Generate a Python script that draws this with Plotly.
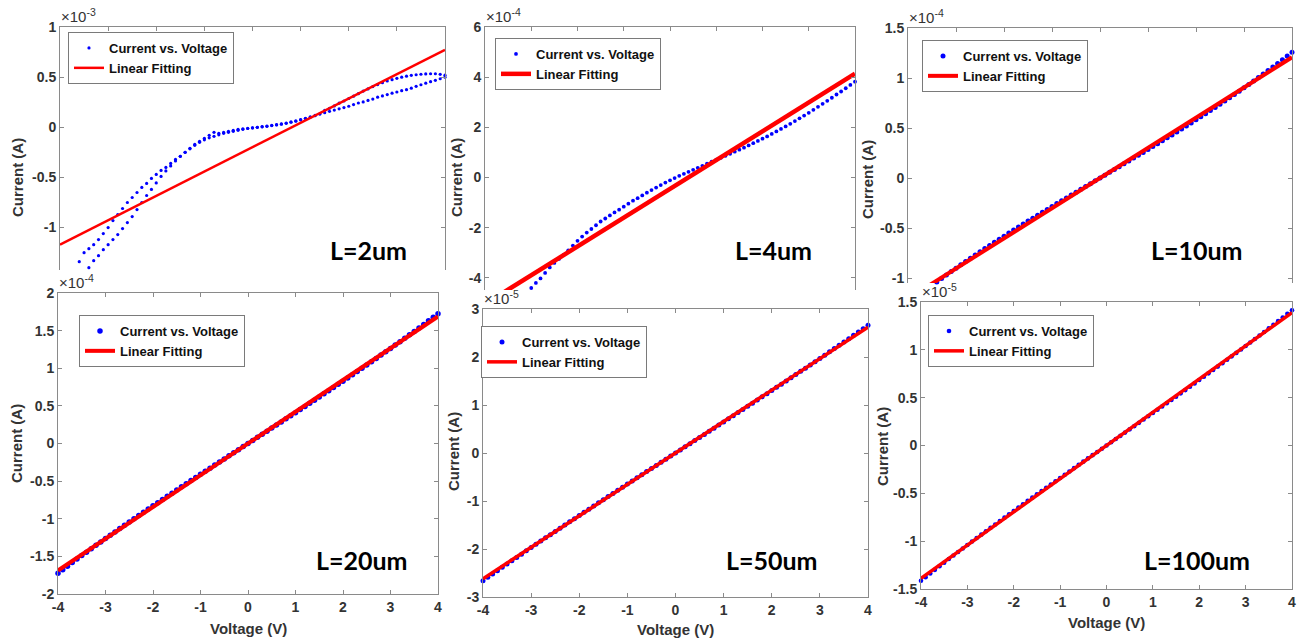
import plotly.graph_objects as go

# ---------------- data ----------------
voltage = [-4.0, -3.9, -3.8, -3.7, -3.6, -3.5, -3.4, -3.3, -3.2, -3.1,
           -3.0, -2.9, -2.8, -2.7, -2.6, -2.5, -2.4, -2.3, -2.2, -2.1,
           -2.0, -1.9, -1.8, -1.7, -1.6, -1.5, -1.4, -1.3, -1.2, -1.1,
           -1.0, -0.9, -0.8, -0.7, -0.6, -0.5, -0.4, -0.3, -0.2, -0.1,
           0.0, 0.1, 0.2, 0.3, 0.4, 0.5, 0.6, 0.7, 0.8, 0.9,
           1.0, 1.1, 1.2, 1.3, 1.4, 1.5, 1.6, 1.7, 1.8, 1.9,
           2.0, 2.1, 2.2, 2.3, 2.4, 2.5, 2.6, 2.7, 2.8, 2.9,
           3.0, 3.1, 3.2, 3.3, 3.4, 3.5, 3.6, 3.7, 3.8, 3.9, 4.0]

# L = 2 um (x1e-3 A), two sweep branches
current_2um_sweep1 = [-1.75, -1.65, -1.55, -1.45, -1.34, -1.25, -1.21, -1.17, -1.12, -1.06,
                      -1.00, -0.93, -0.87, -0.81, -0.75, -0.70, -0.65, -0.60, -0.56, -0.51,
                      -0.47, -0.43, -0.40, -0.36, -0.32, -0.29, -0.25, -0.21, -0.17, -0.14,
                      -0.11, -0.08, -0.05, -0.06, -0.05, -0.04, -0.03, -0.02, -0.015, -0.01,
                      -0.005, 0.0, 0.005, 0.01, 0.017, 0.024, 0.031, 0.04, 0.05, 0.06,
                      0.073, 0.087, 0.10, 0.115, 0.135, 0.17, 0.19, 0.213, 0.24, 0.262,
                      0.287, 0.31, 0.335, 0.361, 0.383, 0.406, 0.426, 0.445, 0.462, 0.475,
                      0.488, 0.50, 0.51, 0.518, 0.524, 0.529, 0.532, 0.534, 0.534, 0.528, 0.52]
current_2um_sweep2 = [-1.95, -1.85, -1.74, -1.63, -1.52, -1.46, -1.40, -1.33, -1.28, -1.22,
                      -1.17, -1.12, -1.07, -1.01, -0.95, -0.89, -0.82, -0.75, -0.68, -0.62,
                      -0.555, -0.49, -0.435, -0.385, -0.335, -0.29, -0.25, -0.215, -0.18, -0.15,
                      -0.125, -0.105, -0.09, -0.075, -0.06, -0.05, -0.04, -0.03, -0.02, -0.012,
                      -0.006, 0.0, 0.006, 0.012, 0.019, 0.026, 0.034, 0.043, 0.053, 0.064,
                      0.077, 0.09, 0.105, 0.12, 0.132, 0.146, 0.159, 0.172, 0.184, 0.197,
                      0.21, 0.226, 0.242, 0.253, 0.268, 0.281, 0.30, 0.313, 0.326, 0.34,
                      0.352, 0.365, 0.375, 0.39, 0.408, 0.424, 0.44, 0.455, 0.468, 0.484, 0.50]

# L = 4 um (x1e-4 A)
current_4um = [-6.20, -6.02, -5.84, -5.66, -5.48, -5.30, -5.12, -4.94, -4.76, -4.58,
               -4.40, -4.20, -4.02, -3.80, -3.58, -3.40, -3.24, -3.08, -2.90, -2.71,
               -2.52, -2.35, -2.19, -2.05, -1.90, -1.75, -1.63, -1.51, -1.39, -1.28,
               -1.16, -1.04, -0.92, -0.82, -0.71, -0.60, -0.50, -0.40, -0.30, -0.20,
               -0.11, -0.02, 0.07, 0.15, 0.23, 0.31, 0.39, 0.47, 0.55, 0.63,
               0.71, 0.79, 0.87, 0.95, 1.03, 1.11, 1.19, 1.28, 1.37, 1.46,
               1.55, 1.64, 1.74, 1.84, 1.94, 2.04, 2.14, 2.25, 2.36, 2.47,
               2.58, 2.70, 2.82, 2.94, 3.06, 3.18, 3.31, 3.43, 3.56, 3.69, 3.82]

# L = 10 um (x1e-4 A)
current_10um = [-1.257, -1.219, -1.182, -1.146, -1.110, -1.074, -1.039, -1.004, -0.970, -0.935,
                -0.902, -0.868, -0.835, -0.803, -0.770, -0.738, -0.706, -0.675, -0.643, -0.612,
                -0.582, -0.551, -0.521, -0.491, -0.461, -0.431, -0.402, -0.372, -0.343, -0.314,
                -0.285, -0.256, -0.227, -0.199, -0.170, -0.142, -0.113, -0.085, -0.057, -0.028,
                0.0, 0.028, 0.057, 0.085, 0.113, 0.142, 0.170, 0.199, 0.227, 0.256,
                0.285, 0.314, 0.343, 0.372, 0.402, 0.431, 0.461, 0.491, 0.521, 0.551,
                0.582, 0.612, 0.643, 0.675, 0.706, 0.738, 0.770, 0.803, 0.835, 0.868,
                0.902, 0.935, 0.970, 1.004, 1.039, 1.074, 1.110, 1.146, 1.182, 1.219, 1.257]

# L = 20 um (x1e-4 A)
current_20um = [-1.724, -1.677, -1.630, -1.583, -1.536, -1.490, -1.444, -1.399, -1.353, -1.308,
                -1.264, -1.219, -1.175, -1.131, -1.087, -1.043, -1.000, -0.957, -0.914, -0.871,
                -0.828, -0.786, -0.744, -0.702, -0.660, -0.618, -0.576, -0.534, -0.493, -0.451,
                -0.410, -0.369, -0.328, -0.287, -0.246, -0.205, -0.164, -0.123, -0.082, -0.041,
                0.0, 0.041, 0.082, 0.123, 0.164, 0.205, 0.246, 0.287, 0.328, 0.369,
                0.410, 0.451, 0.493, 0.534, 0.576, 0.618, 0.660, 0.702, 0.744, 0.786,
                0.828, 0.871, 0.914, 0.957, 1.000, 1.043, 1.087, 1.131, 1.175, 1.219,
                1.264, 1.308, 1.353, 1.399, 1.444, 1.490, 1.536, 1.583, 1.630, 1.677, 1.724]

# L = 50 um (x1e-5 A)
current_50um = [-2.660, -2.590, -2.520, -2.451, -2.381, -2.312, -2.243, -2.175, -2.107, -2.038,
                -1.971, -1.903, -1.835, -1.768, -1.701, -1.634, -1.567, -1.501, -1.434, -1.368,
                -1.302, -1.236, -1.170, -1.105, -1.039, -0.973, -0.908, -0.843, -0.778, -0.713,
                -0.648, -0.583, -0.518, -0.453, -0.388, -0.323, -0.259, -0.194, -0.129, -0.065,
                0.0, 0.065, 0.129, 0.194, 0.259, 0.323, 0.388, 0.453, 0.518, 0.583,
                0.648, 0.713, 0.778, 0.843, 0.908, 0.973, 1.039, 1.105, 1.170, 1.236,
                1.302, 1.368, 1.434, 1.501, 1.567, 1.634, 1.701, 1.768, 1.835, 1.903,
                1.971, 2.038, 2.107, 2.175, 2.243, 2.312, 2.381, 2.451, 2.520, 2.590, 2.660]

# L = 100 um (x1e-5 A)
current_100um = [-1.414, -1.376, -1.338, -1.300, -1.262, -1.225, -1.187, -1.150, -1.113, -1.077,
                 -1.040, -1.004, -0.968, -0.932, -0.896, -0.860, -0.825, -0.789, -0.754, -0.719,
                 -0.684, -0.649, -0.614, -0.579, -0.545, -0.510, -0.476, -0.442, -0.407, -0.373,
                 -0.339, -0.305, -0.271, -0.237, -0.203, -0.169, -0.135, -0.101, -0.068, -0.034,
                 0.0, 0.034, 0.068, 0.101, 0.135, 0.169, 0.203, 0.237, 0.271, 0.305,
                 0.339, 0.373, 0.407, 0.442, 0.476, 0.510, 0.545, 0.579, 0.614, 0.649,
                 0.684, 0.719, 0.754, 0.789, 0.825, 0.860, 0.896, 0.932, 0.968, 1.004,
                 1.040, 1.077, 1.113, 1.150, 1.187, 1.225, 1.262, 1.300, 1.338, 1.376, 1.414]

# linear fits (end points at -4 V and +4 V)
fit_voltage = [-4.0, 4.0]
fit_2um = [-1.17, 0.773]
fit_4um = [-5.04, 4.14]
fit_10um = [-1.207, 1.207]
fit_20um = [-1.688, 1.688]
fit_50um = [-2.62, 2.62]
fit_100um = [-1.389, 1.389]

panel_labels = ["L=2um", "L=4um", "L=10um", "L=20um", "L=50um", "L=100um"]
exponents = ["-3", "-4", "-4", "-4", "-5", "-5"]
x_ticks = [-4, -3, -2, -1, 0, 1, 2, 3, 4]
x_ticktext = ["-4", "-3", "-2", "-1", "0", "1", "2", "3", "4"]
y_ticks = [
    [-1, -0.5, 0, 0.5, 1],
    [-4, -2, 0, 2, 4, 6],
    [-1, -0.5, 0, 0.5, 1, 1.5],
    [-2, -1.5, -1, -0.5, 0, 0.5, 1, 1.5, 2],
    [-3, -2, -1, 0, 1, 2, 3],
    [-1.5, -1, -0.5, 0, 0.5, 1, 1.5],
]
y_ticktext = [
    ["-1", "-0.5", "0", "0.5", "1"],
    ["-4", "-2", "0", "2", "4", "6"],
    ["-1", "-0.5", "0", "0.5", "1", "1.5"],
    ["-2", "-1.5", "-1", "-0.5", "0", "0.5", "1", "1.5", "2"],
    ["-3", "-2", "-1", "0", "1", "2", "3"],
    ["-1.5", "-1", "-0.5", "0", "0.5", "1", "1.5"],
]

# ---------------- layout helpers ----------------
W, H = 1301, 642
def fx(p):
    return p / W
def fy(p):
    return 1 - p / H

# pixel boxes: left, right, top, bottom ; y range ; top-row?
panels = [
    dict(l=60, r=445, t=27, b=270, yr=[-1.423, 1.0], top=True),
    dict(l=485, r=855, t=27, b=290, yr=[-4.48, 6.0], top=True),
    dict(l=908, r=1292, t=28, b=283, yr=[-1.05, 1.5], top=True),
    dict(l=58, r=438, t=293, b=594, yr=[-2.0, 2.0], top=False),
    dict(l=483, r=868, t=309, b=597, yr=[-3.0, 3.0], top=False),
    dict(l=921, r=1292, t=302, b=589, yr=[-1.5, 1.5], top=False),
]
legend_pos = [(68, 32), (495, 38), (922, 40), (79, 315), (481, 326), (928, 315)]
ylabel_pos = [(18, 178), (457, 178), (867, 180), (16, 444), (453, 452), (882, 447)]
xlabel_pos = [None, None, None, (248, 628), (675, 629), (1106, 622)]
exp_pos = [(59, 27), (484, 27), (907, 28), (57, 293), (482, 309), (920, 302)]
label_pos = [(368, 250), (773, 250), (1197, 250), (362, 560), (772, 560), (1197, 560)]
marker_sizes = [3.2, 3.8, 5, 5.5, 5, 4.6]
line_widths = [2.5, 4.5, 4, 4, 3.5, 3.5]

BLUE = "#0000ff"
RED = "#ff0000"
AXC = "#8a8a8a"
TXT = "#333333"
FONT = "Liberation Sans, Arial, sans-serif"

series = [
    [current_2um_sweep1, current_2um_sweep2],
    [current_4um],
    [current_10um],
    [current_20um],
    [current_50um],
    [current_100um],
]
fits = [fit_2um, fit_4um, fit_10um, fit_20um, fit_50um, fit_100um]

fig = go.Figure()
layout = dict(
    width=W, height=H, autosize=False,
    margin=dict(l=0, r=0, t=0, b=0, autoexpand=False),
    paper_bgcolor="white", plot_bgcolor="white",
    annotations=[],
)

for i, p in enumerate(panels):
    n = i + 1
    sfx = "" if n == 1 else str(n)
    lg = "legend" if n == 1 else "legend%d" % n
    for k, ys in enumerate(series[i]):
        fig.add_trace(go.Scatter(
            x=voltage, y=ys, mode="markers",
            marker=dict(color=BLUE, size=marker_sizes[i], line=dict(width=0)),
            name="Current vs. Voltage", showlegend=(k == 0),
            xaxis="x" + sfx, yaxis="y" + sfx, legend=lg, cliponaxis=False,
        ))
    fig.add_trace(go.Scatter(
        x=fit_voltage, y=fits[i], mode="lines",
        line=dict(color=RED, width=line_widths[i]),
        name="Linear Fitting",
        xaxis="x" + sfx, yaxis="y" + sfx, legend=lg,
    ))

    tickfont = dict(family=FONT, size=14, color=TXT, weight="bold")
    xa = dict(
        domain=[fx(p["l"]), fx(p["r"])], range=[-4, 4], anchor="y" + sfx,
        showline=True, linecolor=AXC, linewidth=1,
        ticks="inside", ticklen=4, tickcolor=AXC, tickwidth=1,
        tickvals=x_ticks, ticktext=x_ticktext, tickfont=tickfont,
        ticklabeloverflow="allow",
        showgrid=False, zeroline=False, fixedrange=True,
    )
    if p["top"]:
        xa.update(side="top", showticklabels=False, mirror=False)
    else:
        xa.update(side="bottom", mirror="ticks")
    ya = dict(
        domain=[fy(p["b"]), fy(p["t"])], range=p["yr"], anchor="x" + sfx,
        showline=True, linecolor=AXC, linewidth=1, mirror="ticks",
        ticks="inside", ticklen=4, tickcolor=AXC, tickwidth=1,
        tickvals=y_ticks[i], ticktext=y_ticktext[i], tickfont=tickfont,
        ticklabeloverflow="allow",
        showgrid=False, zeroline=False, fixedrange=True,
    )
    layout["xaxis" + sfx] = xa
    layout["yaxis" + sfx] = ya

    lx, ly = legend_pos[i]
    layout[lg] = dict(
        x=fx(lx), y=fy(ly), xanchor="left", yanchor="top",
        bgcolor="white", bordercolor="#7a7a7a", borderwidth=1,
        font=dict(family=FONT, size=13, color="#111111", weight="bold"),
        itemwidth=30, tracegroupgap=0,
    )

    ax_, ay_ = ylabel_pos[i]
    layout["annotations"].append(dict(
        text="Current (A)", x=fx(ax_), y=fy(ay_), xref="paper", yref="paper",
        xanchor="center", yanchor="middle", textangle=-90, showarrow=False,
        font=dict(family=FONT, size=15, color=TXT, weight="bold"),
    ))
    if xlabel_pos[i] is not None:
        bx, by = xlabel_pos[i]
        layout["annotations"].append(dict(
            text="Voltage (V)", x=fx(bx), y=fy(by), xref="paper", yref="paper",
            xanchor="center", yanchor="middle", showarrow=False,
            font=dict(family=FONT, size=15, color=TXT, weight="bold"),
        ))
    ex, ey = exp_pos[i]
    layout["annotations"].append(dict(
        text="\u00d710<sup>%s</sup>" % exponents[i], x=fx(ex), y=fy(ey),
        xref="paper", yref="paper", xanchor="left", yanchor="bottom",
        showarrow=False, font=dict(family=FONT, size=15, color=TXT),
    ))
    tx, ty = label_pos[i]
    layout["annotations"].append(dict(
        text=panel_labels[i], x=fx(tx), y=fy(ty), xref="paper", yref="paper",
        xanchor="center", yanchor="middle", showarrow=False,
        font=dict(family="Lato, Carlito, sans-serif", size=25, color="black", weight="bold"),
    ))

fig.update_layout(**layout)
fig.write_html(
    "out.html",
    config={"displayModeBar": False, "responsive": False},
    post_script=(
        "document.documentElement.style.margin='0px';"
        "document.documentElement.style.padding='0px';"
        "document.documentElement.style.overflow='hidden';"
        "document.documentElement.style.height='642px';"
        "document.body.style.margin='0px';"
        "document.body.style.padding='0px';"
        "document.body.style.overflow='hidden';"
        "document.body.style.height='642px';"
    ),
)
